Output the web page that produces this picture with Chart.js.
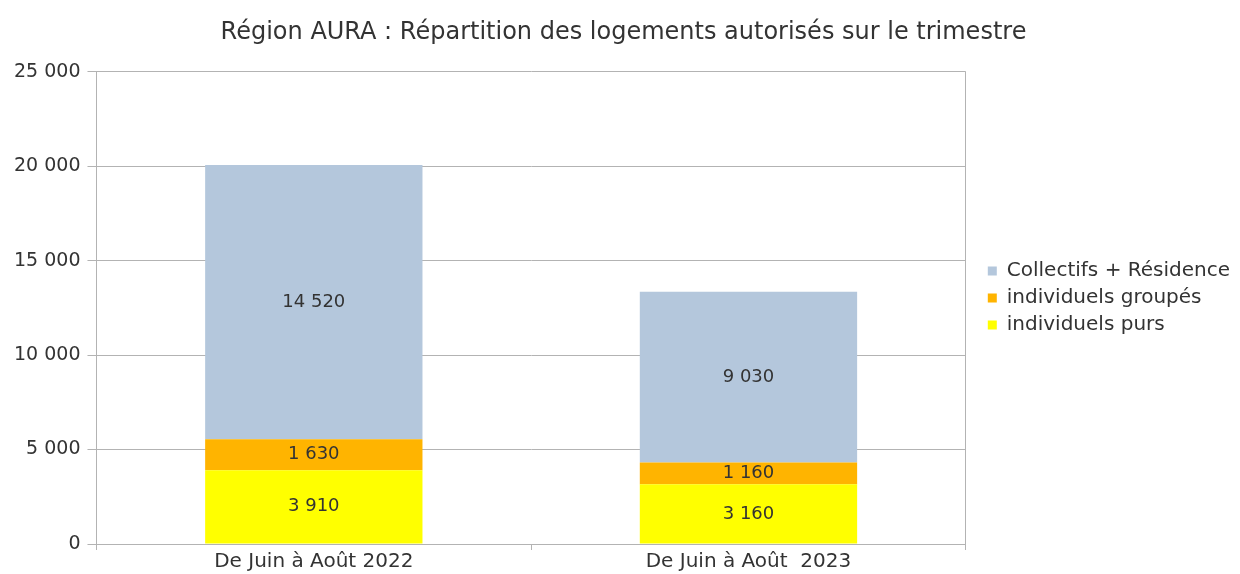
<!DOCTYPE html>
<html>
<head>
<meta charset="utf-8">
<script src="https://cdn.jsdelivr.net/npm/chart.js"></script>
<style>
  body { margin: 0; background: #fff; }
</style>
</head>
<body>
<canvas id="chartLogements" width="1240" height="574"></canvas>
<script>
const categories = ['De Juin à Août 2022', 'De Juin à Août  2023'];
const individuelsPurs = [3910, 3160];
const individuelsGroupes = [1630, 1160];
const collectifsResidence = [14520, 9030];
const yTicks = [0, 5000, 10000, 15000, 20000, 25000];

const fontFamily = "'DejaVu Sans', sans-serif";
const textColor = '#333333';
const gridColor = '#b3b3b3';

function formatNombre(v) {
    return String(v).replace(/\B(?=(\d{3})+(?!\d))/g, ' ');
}

// valeurs au milieu de chaque segment
const valeursPlugin = {
    id: 'valeurs',
    afterDatasetsDraw(chart) {
        let ctx = chart.ctx;
        ctx.save();
        ctx.font = '18px ' + fontFamily;
        ctx.fillStyle = textColor;
        ctx.textAlign = 'center';
        ctx.textBaseline = 'middle';
        chart.data.datasets.forEach((ds, i) => {
            chart.getDatasetMeta(i).data.forEach((bar, j) => {
                ctx.fillText(formatNombre(ds.data[j]), bar.x, (bar.y + bar.base) / 2);
            });
        });
        ctx.restore();
    }
};

new Chart(document.getElementById('chartLogements'), {
    type: 'bar',
    data: {
        labels: categories,
        datasets: [{
            label: 'individuels purs',
            data: individuelsPurs,
            backgroundColor: '#ffff00'
        }, {
            label: 'individuels groupés',
            data: individuelsGroupes,
            backgroundColor: '#ffb400'
        }, {
            label: 'Collectifs + Résidence',
            data: collectifsResidence,
            backgroundColor: '#b4c7dc'
        }]
    },
    options: {
        responsive: false,
        animation: false,
        layout: { padding: { left: 7, right: 0, top: 0, bottom: 0 } },
        datasets: {
            bar: { barPercentage: 0.5, categoryPercentage: 1.0 }
        },
        scales: {
            x: {
                stacked: true,
                grid: {
                    color: c => c.index === 1 ? 'rgba(0,0,0,0)' : gridColor,
                    tickColor: gridColor,
                    tickLength: 6
                },
                border: { color: gridColor },
                ticks: { color: textColor, font: { family: fontFamily, size: 20 }, padding: 0 }
            },
            y: {
                stacked: true,
                min: 0,
                max: 25000,
                afterBuildTicks: s => { s.ticks = yTicks.map(v => ({ value: v })); },
                grid: { color: gridColor, tickLength: 9 },
                border: { color: gridColor },
                ticks: {
                    color: textColor,
                    font: { family: fontFamily, size: 19 },
                    padding: 7,
                    callback: v => formatNombre(v)
                }
            },
            // axe vide : espace entre le graphique et la légende
            yDroite: {
                type: 'linear',
                position: 'right',
                grid: { display: false },
                border: { display: false },
                ticks: { display: false },
                afterFit: s => { s.width = 15; }
            }
        },
        plugins: {
            title: {
                display: true,
                text: 'Région AURA : Répartition des logements autorisés sur le trimestre',
                color: textColor,
                font: { family: fontFamily, size: 24, weight: 'normal' },
                padding: { top: 18, bottom: 25 }
            },
            legend: {
                position: 'right',
                reverse: true,
                maxWidth: 400,
                title: { display: true, text: ' ', font: { size: 10 }, padding: 5 },
                labels: {
                    color: textColor,
                    font: { family: fontFamily, size: 20 },
                    boxWidth: 9,
                    boxHeight: 9,
                    padding: 7
                }
            },
            tooltip: { enabled: false }
        }
    },
    plugins: [valeursPlugin]
});
</script>
</body>
</html>
